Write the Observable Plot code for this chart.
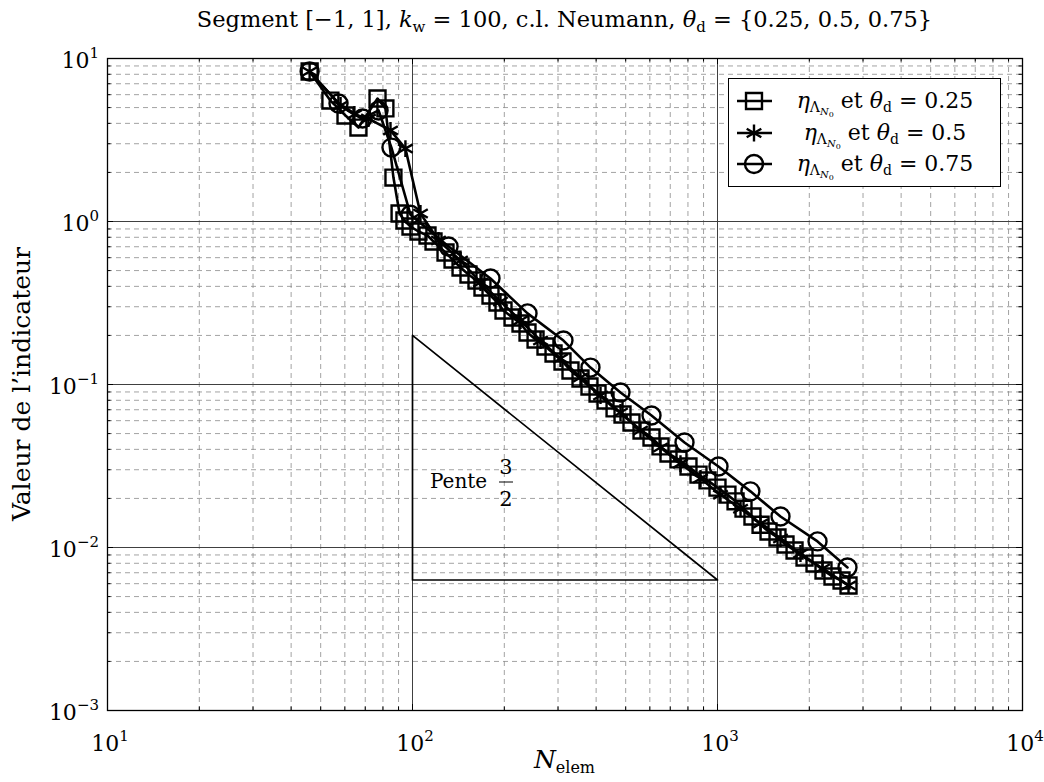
<!DOCTYPE html>
<html><head><meta charset="utf-8">
<script src="https://cdn.jsdelivr.net/npm/d3@7"></script>
<script src="https://cdn.jsdelivr.net/npm/@observablehq/plot@0.6"></script>
<style>body{margin:0;background:#fff} svg{display:block}</style>
</head><body><div id="chart"></div>
<script>
// θd = 0.25 (squares)
const nElem025 = [46, 53.8, 60.3, 66.5, 76.8, 81.5, 86.6, 90.7, 94.1, 98.5, 104.6, 112, 117.2, 128.3, 135.3, 143.7, 152.6, 162.1, 169.6, 180.2, 189.9, 198.8, 212.8, 226, 238.3, 253.2, 272.9, 290, 310.3, 329.6, 355.5, 380.4, 404.3, 429.4, 459.7, 488.2, 522.4, 563.5, 607.6, 650.4, 690.8, 744.9, 803.3, 866.4, 927.3, 1000, 1078, 1146, 1217, 1302, 1384, 1470, 1573, 1671, 1789, 1929, 2080, 2226, 2382, 2551, 2689];
const eta025 = [8.32, 5.52, 4.47, 3.77, 5.68, 4.94, 1.86, 1.12, 1.014, 0.932, 0.868, 0.82, 0.754, 0.645, 0.584, 0.522, 0.473, 0.4345, 0.3937, 0.3516, 0.3184, 0.2844, 0.2576, 0.2366, 0.2084, 0.1888, 0.171, 0.1549, 0.1384, 0.1219, 0.1088, 0.0972, 0.0881, 0.0798, 0.0713, 0.0655, 0.0585, 0.0522, 0.0473, 0.0417, 0.0377, 0.0347, 0.0314, 0.028, 0.0258, 0.0233, 0.0211, 0.0192, 0.0173, 0.0155, 0.0138, 0.01253, 0.01151, 0.01043, 0.00958, 0.00868, 0.00797, 0.00723, 0.00664, 0.00627, 0.00585];
// θd = 0.5 (stars)
const nElem050 = [46, 58.1, 64.5, 71.7, 84.7, 94.8, 106.2, 121.7, 143.7, 167.1, 194.3, 226, 262.9, 305.6, 355.5, 413.5, 480.8, 559.2, 650.4, 756.2, 879.6, 1023, 1190, 1384, 1609, 1871, 2210, 2689];
const eta050 = [8.32, 5.15, 4.53, 4.28, 3.62, 2.8, 1.12, 0.765, 0.576, 0.4225, 0.3229, 0.2469, 0.1862, 0.1443, 0.1104, 0.0856, 0.0673, 0.0522, 0.0411, 0.0327, 0.0265, 0.0211, 0.0173, 0.01404, 0.01136, 0.00919, 0.00743, 0.00585];
// θd = 0.75 (circles)
const nElem075 = [46, 57.2, 68.6, 77.4, 85.3, 98.5, 131.3, 180.2, 238.3, 312.6, 383.3, 480.8, 607.6, 779.5, 1007.6, 1282, 1609, 2128, 2668];
const eta075 = [8.32, 5.3, 4.28, 4.8, 2.84, 1.1, 0.703, 0.447, 0.273, 0.186, 0.127, 0.0893, 0.0645, 0.0441, 0.0314, 0.0221, 0.0155, 0.0109, 0.00754];

const thetaLabels = ["0.25", "0.5", "0.75"];
const markerSymbols = ["square", "asterisk", "circle"];
const xTickExponents = [1, 2, 3, 4];
const yTickExponents = [-3, -2, -1, 0, 1];
// slope triangle "Pente 3/2"
const triangleN = [100, 100, 1000, 100];
const triangleEta = [0.2, 0.00632, 0.00632, 0.2];

const FONT = "'DejaVu Serif', serif";

const series = [
  {theta: thetaLabels[0], N: nElem025, eta: eta025, symbol: markerSymbols[0]},
  {theta: thetaLabels[1], N: nElem050, eta: eta050, symbol: markerSymbols[1]},
  {theta: thetaLabels[2], N: nElem075, eta: eta075, symbol: markerSymbols[2]}
];
const rows = series.flatMap(s => s.N.map((n, i) => ({theta: s.theta, N: n, eta: s.eta[i], symbol: s.symbol})));
const triangle = triangleN.map((n, i) => ({N: n, eta: triangleEta[i]}));

const majorX = xTickExponents.map(e => 10 ** e);
const majorY = yTickExponents.map(e => 10 ** e);
const minorX = [], minorY = [];
for (let e = xTickExponents[0]; e < xTickExponents[xTickExponents.length - 1]; e++) for (let k = 2; k <= 9; k++) minorX.push(k * 10 ** e);
for (let e = yTickExponents[0]; e < yTickExponents[yTickExponents.length - 1]; e++) for (let k = 2; k <= 9; k++) minorY.push(k * 10 ** e);

const W = 1044, H = 782, mL = 107, mR = 22, mT = 58, mB = 72;
const iW = W - mL - mR, iH = H - mT - mB;

const gridMinor = {stroke: "#8c8c8c", strokeOpacity: 1, strokeWidth: 0.8, strokeDasharray: "5,4"};
const gridMajor = {stroke: "#404040", strokeOpacity: 1, strokeWidth: 1};

const marks = [
  Plot.gridX(minorX, gridMinor),
  Plot.gridY(minorY, gridMinor),
  Plot.gridX(majorX, gridMajor),
  Plot.gridY(majorY, gridMajor),
  // inward ticks on all four sides
  Plot.tickX(majorX, {x: d => d, insetTop: iH - 6, stroke: "black"}),
  Plot.tickX(majorX, {x: d => d, insetBottom: iH - 6, stroke: "black"}),
  Plot.tickX(minorX, {x: d => d, insetTop: iH - 3.5, stroke: "black"}),
  Plot.tickX(minorX, {x: d => d, insetBottom: iH - 3.5, stroke: "black"}),
  Plot.tickY(majorY, {y: d => d, insetRight: iW - 6, stroke: "black"}),
  Plot.tickY(majorY, {y: d => d, insetLeft: iW - 6, stroke: "black"}),
  Plot.tickY(minorY, {y: d => d, insetRight: iW - 3.5, stroke: "black"}),
  Plot.tickY(minorY, {y: d => d, insetLeft: iW - 3.5, stroke: "black"}),
  Plot.line(triangle, {x: "N", y: "eta", stroke: "black", strokeWidth: 1.7})
];
for (const s of series) {
  const d = rows.filter(r => r.theta === s.theta);
  marks.push(Plot.line(d, {x: "N", y: "eta", stroke: "black", strokeWidth: 2.6}));
  marks.push(Plot.dot(d, {x: "N", y: "eta", symbol: () => s.symbol, r: s.symbol === "asterisk" ? 8 : 9, stroke: "black", strokeWidth: 2.4, fill: "none"}));
}
marks.push(Plot.frame({stroke: "black", strokeWidth: 1.3}));

const plot = Plot.plot({
  width: W, height: H,
  marginLeft: mL, marginRight: mR, marginTop: mT, marginBottom: mB,
  x: {type: "log", domain: [10, 1e4], axis: null},
  y: {type: "log", domain: [1e-3, 10], axis: null},
  symbol: {type: "identity"},
  style: {background: "white", fontFamily: FONT},
  marks
});
document.getElementById("chart").appendChild(plot);

const svg = d3.select(plot);
const xs = plot.scale("x"), ys = plot.scale("y");

function rich(parent, x, y, segs, anchor, size) {
  const t = parent.append("text").attr("x", x).attr("y", y).attr("text-anchor", anchor)
    .style("font-family", FONT).style("font-size", size + "px").style("fill", "black");
  let cur = 0;
  for (const s of segs) {
    const sh = s.shift || 0;
    const ts = t.append("tspan").text(s.t);
    if (sh !== cur) { ts.attr("dy", sh - cur); cur = sh; }
    if (s.it) ts.style("font-style", "italic");
    if (s.size) ts.style("font-size", s.size + "px");
  }
  return t;
}
const sup = e => String(e).replace("-", "\u2212");

// Tick labels
for (const e of xTickExponents) {
  rich(svg, xs.apply(10 ** e) + 3, 751, [{t: "10"}, {t: sup(e), shift: -10, size: 15}], "middle", 22);
}
for (const e of yTickExponents) {
  rich(svg, 99, ys.apply(10 ** e) + 10, [{t: "10"}, {t: sup(e), shift: -10, size: 15}], "end", 22);
}

// Title
rich(svg, mL + iW / 2, 27, [
  {t: "Segment [\u22121, 1], "}, {t: "k", it: true}, {t: "w", shift: 5, size: 15},
  {t: " = 100, c.l. Neumann, ", shift: 0}, {t: "\u03b8", it: true}, {t: "d", shift: 5, size: 15},
  {t: " = {0.25, 0.5, 0.75}", shift: 0}
], "middle", 22.5);

// Axis labels
rich(svg, mL + iW / 2, 768, [{t: "N", it: true}, {t: "elem", shift: 5, size: 16}], "middle", 25);
rich(svg, 0, 0, [{t: "Valeur de l\u2019indicateur"}], "middle", 25).attr("transform", `translate(30,${mT + iH / 2}) rotate(-90)`);

// Slope annotation
rich(svg, 430, 488, [{t: "Pente"}], "start", 20);
rich(svg, 506, 474, [{t: "3"}], "middle", 21);
rich(svg, 506, 506, [{t: "2"}], "middle", 21);
svg.append("line").attr("x1", 499).attr("x2", 513).attr("y1", 482).attr("y2", 482).attr("stroke", "black").attr("stroke-width", 1);

// Legend
const lg = svg.append("g");
lg.append("rect").attr("x", 728.5).attr("y", 78.5).attr("width", 272).attr("height", 108)
  .attr("fill", "white").attr("stroke", "black").attr("stroke-width", 1);
const rowY = [101, 133, 164];
series.forEach((s, i) => {
  const y = rowY[i];
  lg.append("line").attr("x1", 737).attr("x2", 772).attr("y1", y).attr("y2", y).attr("stroke", "black").attr("stroke-width", 2.6);
  const sym = {square: d3.symbolSquare, asterisk: d3.symbolAsterisk, circle: d3.symbolCircle}[s.symbol];
  const r = s.symbol === "asterisk" ? 8 : 9;
  lg.append("path").attr("transform", `translate(754,${y})`).attr("d", d3.symbol(sym, r * r * Math.PI)())
    .attr("fill", "none").attr("stroke", "black").attr("stroke-width", 2.4);
  rich(lg, 885, y + 7, [
    {t: "\u03b7", it: true}, {t: "\u039b", shift: 4, size: 14}, {t: "N", it: true, shift: 7, size: 10}, {t: "0", shift: 9, size: 8},
    {t: " et ", shift: 0}, {t: "\u03b8", it: true}, {t: "d", shift: 4, size: 14}, {t: " = " + s.theta, shift: 0}
  ], "middle", 22);
});
</script>
</body></html>
